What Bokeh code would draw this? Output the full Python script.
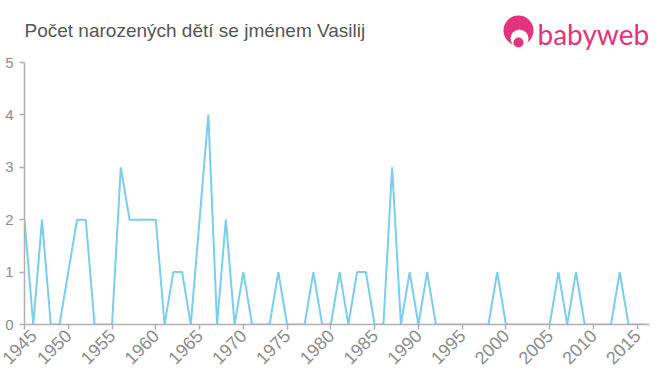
import math
from bokeh.plotting import figure
from bokeh.models import FixedTicker, Range1d, Label, BoxAnnotation
from bokeh.embed import file_html
from bokeh.resources import INLINE

title_text = "Počet narozených dětí se jménem Vasilij"
logo_text = "babyweb"

years = list(range(1945, 2017))
counts = [2, 0, 2, 0, 0, 1, 2, 2, 0, 0,
          0, 3, 2, 2, 2, 2, 0, 1, 1, 0,
          2, 4, 0, 2, 0, 1, 0, 0, 0, 1,
          0, 0, 0, 1, 0, 0, 1, 0, 1, 1,
          0, 0, 3, 0, 1, 0, 1, 0, 0, 0,
          0, 0, 0, 0, 1, 0, 0, 0, 0, 0,
          0, 1, 0, 1, 0, 0, 0, 0, 1, 0,
          0, 0]
x_ticks = list(range(1945, 2016, 5))
y_ticks = [0, 1, 2, 3, 4, 5]

PINK = "#e2337c"
FONT = "Liberation Sans"

# frame spans the whole height above the x axis; value 5 sits 62px from the top
FRAME_H = 324
Y_TOP = 5 * FRAME_H / 262.0

p = figure(width=660, height=375, output_backend="svg", toolbar_location=None,
           x_range=Range1d(1945, 2016.4), y_range=Range1d(0, Y_TOP),
           min_border_left=24, min_border_right=11, min_border_top=0,
           min_border_bottom=51)
p.outline_line_color = None
p.grid.visible = False
p.line(years, counts, line_color="#79cdee", line_width=2)

for ax in (p.xaxis[0], p.yaxis[0]):
    ax.axis_line_color = "#b0b0b0"
    ax.axis_line_width = 1.5
    ax.major_tick_line_color = "#b0b0b0"
    ax.major_tick_line_width = 1.5
    ax.minor_tick_line_color = None
    ax.major_tick_in = 0
    ax.major_tick_out = 5
    ax.major_label_text_color = "#8c8c8c"
    ax.major_label_text_font = FONT
    ax.major_label_text_font_size = "15px"

p.xaxis[0].ticker = FixedTicker(ticks=x_ticks)
p.yaxis[0].ticker = FixedTicker(ticks=y_ticks)
p.yaxis[0].bounds = (0, 5)
p.xaxis[0].major_label_orientation = math.pi / 4
p.xaxis[0].major_label_standoff = 3
p.yaxis[0].major_label_standoff = 6
p.xaxis[0].major_label_text_font_size = "18px"

# Header inside the frame: screen units from frame bottom-left
p.add_layout(Label(x=0, y=294, x_units="screen", y_units="screen",
                   text=title_text, text_font=FONT, text_font_size="19px",
                   text_color="#555555", text_baseline="alphabetic"))
p.add_layout(Label(x=513, y=291, x_units="screen", y_units="screen",
                   text=logo_text, text_font="Lato", text_font_size="28px",
                   text_color=PINK, text_baseline="alphabetic"))
for (l, r, t, b, rad, col) in [(479, 509, 309, 279, 15, PINK),
                               (486, 504, 295, 277, 9, "white"),
                               (489, 499, 287, 277, 5, PINK)]:
    p.add_layout(BoxAnnotation(left=l, right=r, top=t, bottom=b,
                               left_units="screen", right_units="screen",
                               top_units="screen", bottom_units="screen",
                               fill_color=col, fill_alpha=1, line_color=None,
                               border_radius=rad, level="overlay"))

open("out.html", "w").write(file_html(p, INLINE))
